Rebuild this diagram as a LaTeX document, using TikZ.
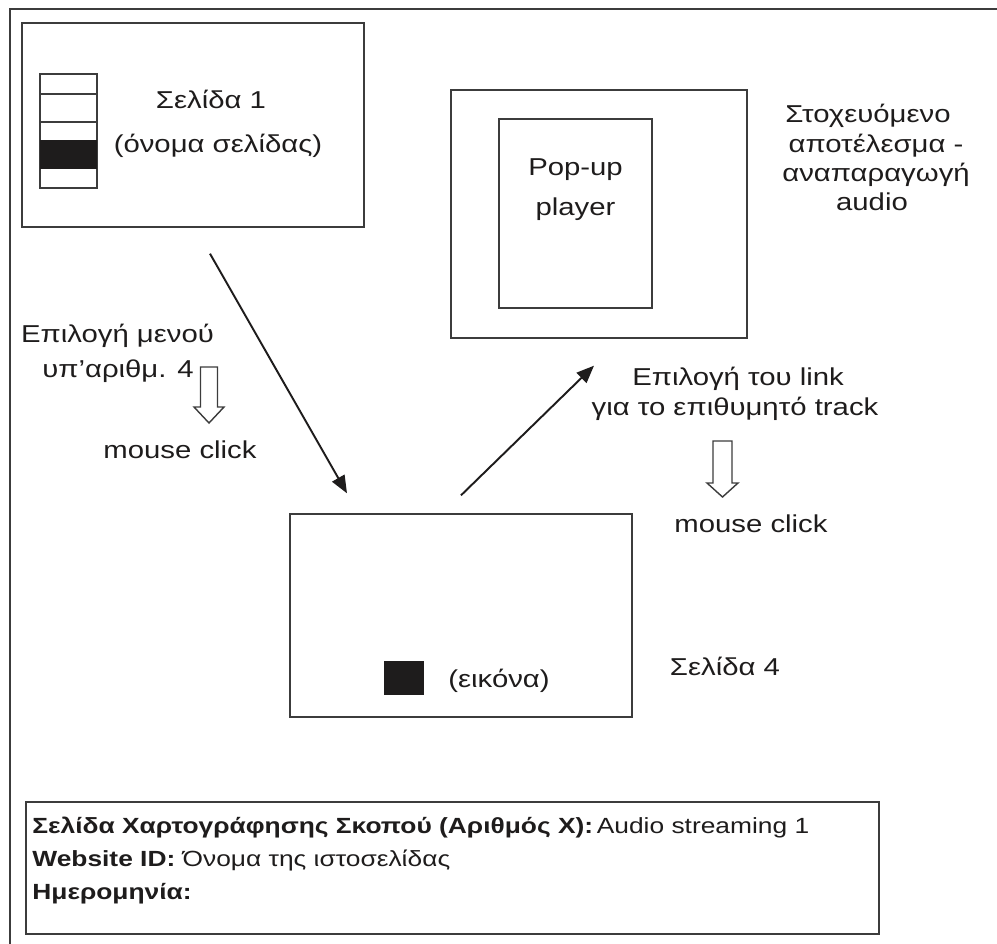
\documentclass[tikz,border=0pt]{standalone}
\usepackage{fontspec}
\setmainfont{Liberation Sans}[FakeStretch=1.2]
\usetikzlibrary{positioning, arrows.meta}
\definecolor{FrameGray}{RGB}{60,60,60}
\definecolor{InkBlack}{RGB}{30,28,28}

\tikzset{
  pagebox/.style={draw=FrameGray, line width=0.8pt, inner sep=0pt},
  lbl/.style={inner sep=0pt, anchor=base, text=InkBlack, font=\fontsize{13.9}{16}\selectfont},
  infolbl/.style={inner sep=0pt, anchor=base west, text=InkBlack, font=\fontsize{12.5}{15}\selectfont},
  flow/.style={-{Triangle[length=10pt,width=8pt]}, line width=1.1pt, InkBlack},
  clickarrow/.style={draw=FrameGray, line width=0.8pt, fill=white},
}

\begin{document}
\begin{tikzpicture}[x=0.02cm, y=-0.02cm]
    \useasboundingbox (0,0) rectangle (997,943);

    % Outer frame (cut by the page)
    \begin{scope}
      \clip (0,0) rectangle (997,943);
      \draw[FrameGray, line width=1.1pt] (10,9) rectangle (1030,980);
    \end{scope}

    % Page 1
    \node[pagebox, minimum width=6.84cm, minimum height=4.08cm] (page1) at (193,125) {};
    \draw[FrameGray, line width=0.8pt] (40,74) rectangle (97,188);
    \fill[InkBlack] (40,140) rectangle (97,169);
    \draw[FrameGray, line width=0.8pt] (40,94) -- (97,94);
    \draw[FrameGray, line width=0.8pt] (40,122) -- (97,122);
    \node[lbl] (p1title) at (211,108) {Σελίδα 1};
    \node[lbl] (p1name) at (218,152) {(όνομα σελίδας)};

    % Player
    \node[pagebox, minimum width=5.92cm, minimum height=4.96cm] (result) at (599,214) {};
    \node[pagebox, minimum width=3.06cm, minimum height=3.78cm] (player) at (575.5,213.5) {};
    \node[lbl] (playerA) at (575.5,175) {Pop-up};
    \node[lbl] (playerB) at (575.5,215) {player};
    \node[lbl] (goalA) at (868,122) {Στοχευόμενο};
    \node[lbl] (goalB) at (876,152) {αποτέλεσμα -};
    \node[lbl] (goalC) at (876,181) {αναπαραγωγή};
    \node[lbl] (goalD) at (872,210) {audio};

    % Page 4
    \node[pagebox, minimum width=6.84cm, minimum height=4.06cm] (page4) at (461,615.5) {};
    \fill[InkBlack] (384,661) rectangle (424,695);
    \node[lbl] (image) at (499,687) {(εικόνα)};
    \node[lbl] (p4title) at (725,675) {Σελίδα 4};

    % Menu click
    \node[lbl] (menuA) at (117.5,342) {Επιλογή μενού};
    \node[lbl] (menuB) at (118,377) {υπ’αριθμ. 4};
    \draw[clickarrow] (200.5,367) -- (217.5,367) -- (217.5,407) -- (224,407)
      -- (209,423) -- (194,407) -- (200.5,407) -- cycle;
    \node[lbl] (clickA) at (180,458) {mouse click};

    % Link click
    \node[lbl] (linkA) at (738,385) {Επιλογή του link};
    \node[lbl] (linkB) at (735,415) {για το επιθυμητό track};
    \draw[clickarrow] (713,441) -- (732,441) -- (732,483) -- (738,483)
      -- (722.5,497) -- (707,483) -- (713,483) -- cycle;
    \node[lbl] (clickB) at (751,532) {mouse click};

    % Flow arrows
    \coordinate (from1) at ([shift={(17,26)}]page1.south);
    \coordinate (to4) at ([shift={(-114,-20)}]page4.north);
    \coordinate (from4) at ([shift={(0,-18)}]page4.north);
    \coordinate (toresult) at ([shift={(-5,27)}]result.south);
    \draw[flow] (from1) -- (to4);
    \draw[flow] (from4) -- (toresult);

    % Info box
    \node[pagebox, minimum width=17.06cm, minimum height=2.64cm] (info) at (452.5,868) {};
    \node[infolbl] (infoA) at (32,833) {\textbf{Σελίδα Χαρτογράφησης Σκοπού (Αριθμός X):}\,Audio streaming 1};
    \node[infolbl] (infoB) at (32,866) {\textbf{Website ID:} Όνομα της ιστοσελίδας};
    \node[infolbl] (infoC) at (32,899) {\textbf{Ημερομηνία:}};
\end{tikzpicture}
\end{document}
